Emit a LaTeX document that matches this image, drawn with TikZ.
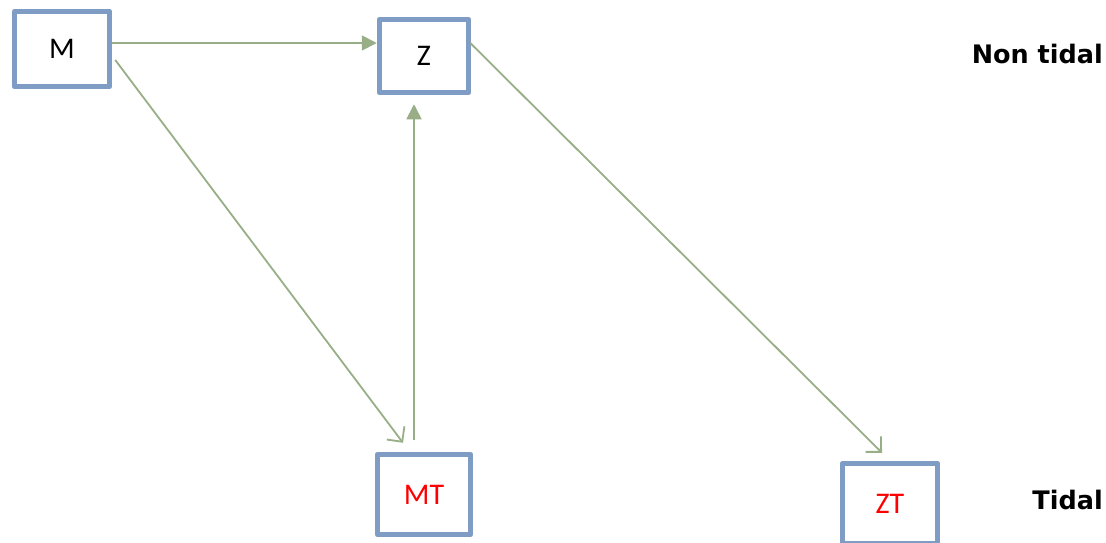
\documentclass[tikz,border=0pt]{standalone}
\usepackage{fontspec}
\setmainfont{Carlito}
\newfontfamily\labelfont{DejaVu Sans}
\usetikzlibrary{arrows.meta}
\definecolor{boxblue}{RGB}{126,156,196}
\definecolor{linkgreen}{RGB}{152,174,134}
\tikzset{
    filledlink/.style={color=linkgreen,line width=1.8pt,-{Triangle[length=15pt,width=15pt]}},
    openlink/.style={color=linkgreen,line width=1.8pt,-{Straight Barb[length=11pt,width=22pt,line width=1.8pt]}}
}
\begin{document}
\begin{tikzpicture}[x=1pt,y=-1pt]
            \useasboundingbox (0,0) rectangle (1106,542);
            \begin{scope}[every node/.style={rectangle,draw=boxblue,line width=5.5pt,line join=round,inner sep=0pt,font=\fontsize{30}{34}\selectfont}]
                \node[minimum width=95pt,minimum height=75pt] (M) at (62,49) {M};
                \node[minimum width=89pt,minimum height=73pt] (Z) at (424,56) {Z};

                \node[minimum width=93pt,minimum height=80pt,text=red] (MT) at (424,494.5) {MT};
                \node[minimum width=95pt,minimum height=80pt,text=red] (ZT) at (890,503.5) {ZT};
            \end{scope}

            \begin{scope}[every node/.style={inner sep=0pt,anchor=east,font=\labelfont\bfseries\fontsize{25.5}{30}\selectfont}]
                \node (nontidal) at (1103,53.5) {Non tidal};
                \node (tidal) at (1103,500) {Tidal};
            \end{scope}

            \begin{scope}
                \path ([yshift=6pt]M.east) edge [filledlink] ([yshift=13pt]Z.west);
                \path ([xshift=3pt,yshift=-11pt]M.east) edge [openlink] ([xshift=-21pt,yshift=9pt]MT.north);

                \path ([xshift=-10pt,yshift=12pt]MT.north) edge [filledlink] ([xshift=-10pt,yshift=-9pt]Z.south);
                \path ([xshift=-1pt,yshift=13pt]Z.east) edge [openlink] ([xshift=-8pt,yshift=8pt]ZT.north);
            \end{scope}
            \end{tikzpicture}
\end{document}
